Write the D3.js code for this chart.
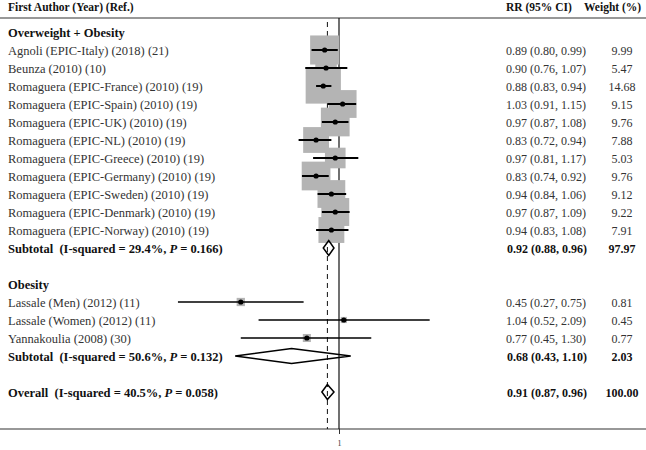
<!DOCTYPE html>
<html>
<head>
<meta charset="utf-8">
<script src="https://cdn.jsdelivr.net/npm/d3@7"></script>
<style>
  html, body { margin: 0; padding: 0; background: #fff; }
  svg { display: block; font-family: "Liberation Serif", "Times New Roman", serif; }
  svg text { white-space: pre; }
</style>
</head>
<body>
<svg id="chart" width="646" height="450"></svg>
<script>
// ---------- data ----------
const groupNames = ["Overweight + Obesity", "Obesity"];
const studies1 = ["Agnoli (EPIC-Italy) (2018) (21)", "Beunza (2010) (10)", "Romaguera (EPIC-France) (2010) (19)",
  "Romaguera (EPIC-Spain) (2010) (19)", "Romaguera (EPIC-UK) (2010) (19)", "Romaguera (EPIC-NL) (2010) (19)",
  "Romaguera (EPIC-Greece) (2010) (19)", "Romaguera (EPIC-Germany) (2010) (19)", "Romaguera (EPIC-Sweden) (2010) (19)",
  "Romaguera (EPIC-Denmark) (2010) (19)", "Romaguera (EPIC-Norway) (2010) (19)"];
const rr1 = [0.89, 0.90, 0.88, 1.03, 0.97, 0.83, 0.97, 0.83, 0.94, 0.97, 0.94];
const lo1 = [0.80, 0.76, 0.83, 0.91, 0.87, 0.72, 0.81, 0.74, 0.84, 0.87, 0.83];
const hi1 = [0.99, 1.07, 0.94, 1.15, 1.08, 0.94, 1.17, 0.92, 1.06, 1.09, 1.08];
const w1  = ["9.99", "5.47", "14.68", "9.15", "9.76", "7.88", "5.03", "9.76", "9.12", "9.22", "7.91"];
const studies2 = ["Lassale (Men) (2012) (11)", "Lassale (Women) (2012) (11)", "Yannakoulia (2008) (30)"];
const rr2 = [0.45, 1.04, 0.77];
const lo2 = [0.27, 0.52, 0.45];
const hi2 = [0.75, 2.09, 1.30];
const w2  = ["0.81", "0.45", "0.77"];
const subtotalLabels = ["Subtotal  (I-squared = 29.4%, ", "Subtotal  (I-squared = 50.6%, "];
const subtotalP = ["0.166", "0.132"];
const subtotalRR = [0.92, 0.68];
const subtotalLo = [0.88, 0.43];
const subtotalHi = [0.96, 1.10];
const subtotalW = ["97.97", "2.03"];
const overallLabel = "Overall  (I-squared = 40.5%, ";
const overallP = "0.058";
const overallRR = 0.91, overallLo = 0.87, overallHi = 0.96, overallW = "100.00";
const headers = ["First Author (Year) (Ref.)", "RR (95% CI)", "Weight (%)"];
const tickValues = [1];

// ---------- layout ----------
const W = 646, H = 450;
const rowTop = 32, rowH = 18;
const xNull = 339, kLog = 123;
const lo = 0.25, hi = 2.5;
const x = d3.scaleLog().domain([lo, hi]).range([xNull + kLog * Math.log(lo), xNull + kLog * Math.log(hi)]);
const yRow = i => rowTop + rowH * i;
const fmt = d3.format(".2f");
const ciText = (r, l, h) => `${fmt(r)} (${fmt(l)}, ${fmt(h)})`;
const boxScale = 9.2;

// build rows
const rows = [];
let r = 0;
rows.push({type: "head", label: groupNames[0], i: r++});
studies1.forEach((s, j) => rows.push({type: "study", label: s, rr: rr1[j], lo: lo1[j], hi: hi1[j], w: w1[j], i: r++, g: 0}));
rows.push({type: "sub", label: subtotalLabels[0], p: subtotalP[0], rr: subtotalRR[0], lo: subtotalLo[0], hi: subtotalHi[0], w: subtotalW[0], i: r++});
r++;
rows.push({type: "head", label: groupNames[1], i: r++});
studies2.forEach((s, j) => rows.push({type: "study", label: s, rr: rr2[j], lo: lo2[j], hi: hi2[j], w: w2[j], i: r++, g: 1}));
rows.push({type: "sub", label: subtotalLabels[1], p: subtotalP[1], rr: subtotalRR[1], lo: subtotalLo[1], hi: subtotalHi[1], w: subtotalW[1], i: r++});
r++;
rows.push({type: "sub", label: overallLabel, p: overallP, rr: overallRR, lo: overallLo, hi: overallHi, w: overallW, i: r++});

const svg = d3.select("#chart");

const topLineY = 18, bottomY = 429;

// header
svg.append("text").attr("x", 8).attr("y", 11).attr("font-weight", "bold").attr("font-size", 11.5).attr("fill", "#111").text(headers[0]);
svg.append("text").attr("x", 506).attr("y", 11).attr("font-weight", "bold").attr("font-size", 11.5).attr("fill", "#111").text(headers[1]);
svg.append("text").attr("x", 584).attr("y", 11).attr("font-weight", "bold").attr("font-size", 11.5).attr("fill", "#111").text(headers[2]);

svg.append("line").attr("x1", 0).attr("x2", W).attr("y1", topLineY).attr("y2", topLineY).attr("stroke", "#333").attr("stroke-width", 1.2);
svg.append("line").attr("x1", 0).attr("x2", W).attr("y1", bottomY).attr("y2", bottomY).attr("stroke", "#333").attr("stroke-width", 1.2);

// reference lines
svg.append("line").attr("x1", x(1)).attr("x2", x(1)).attr("y1", topLineY).attr("y2", bottomY).attr("stroke", "#111").attr("stroke-width", 1.2);
svg.append("line").attr("x1", x(overallRR)).attr("x2", x(overallRR)).attr("y1", 22).attr("y2", bottomY)
  .attr("stroke", "#111").attr("stroke-width", 1).attr("stroke-dasharray", "5,4");

// axis
const axis = d3.axisBottom(x).tickValues(tickValues).tickFormat(d3.format("d")).tickSize(5);
const ax = svg.append("g").attr("transform", `translate(0,${bottomY})`).call(axis);
ax.select(".domain").remove();
ax.selectAll(".tick line").attr("stroke", "#333");
ax.selectAll(".tick text").attr("font-family", "Liberation Serif, serif").attr("font-size", 8).attr("fill", "#333").attr("dy", "1.1em");

// study marks
const studies = rows.filter(d => d.type === "study");
svg.selectAll("rect.box").data(studies).join("rect")
  .attr("class", "box")
  .attr("x", d => x(d.rr) - boxScale * Math.sqrt(+d.w) / 2)
  .attr("y", d => yRow(d.i) - boxScale * Math.sqrt(+d.w) / 2)
  .attr("width", d => boxScale * Math.sqrt(+d.w))
  .attr("height", d => boxScale * Math.sqrt(+d.w))
  .attr("fill", "#b4b4b4");
svg.selectAll("line.ci").data(studies).join("line")
  .attr("class", "ci")
  .attr("x1", d => x(d.lo)).attr("x2", d => x(d.hi))
  .attr("y1", d => yRow(d.i)).attr("y2", d => yRow(d.i))
  .attr("stroke", "#000").attr("stroke-width", d => d.g === 0 ? 2 : 1.5);
svg.selectAll("circle.pt").data(studies).join("circle")
  .attr("class", "pt")
  .attr("cx", d => x(d.rr)).attr("cy", d => yRow(d.i)).attr("r", 2.6).attr("fill", "#000");

// diamonds
const subs = rows.filter(d => d.type === "sub");
const dh = 7.5;
svg.selectAll("path.dia").data(subs).join("path")
  .attr("class", "dia")
  .attr("d", d => {
    const y = yRow(d.i);
    return `M${x(d.lo)},${y} L${x(d.rr)},${y - dh} L${x(d.hi)},${y} L${x(d.rr)},${y + dh} Z`;
  })
  .attr("fill", "none").attr("stroke", "#000").attr("stroke-width", 1.5);

// left labels
const labelSize = 12.5, numSize = 12;
rows.forEach(d => {
  const y = yRow(d.i) + 5;
  if (d.type === "head") {
    svg.append("text").attr("x", 8).attr("y", y).attr("font-size", labelSize).attr("font-weight", "bold").attr("fill", "#111").text(d.label);
  } else if (d.type === "study") {
    svg.append("text").attr("x", 8).attr("y", y).attr("font-size", labelSize).attr("fill", "#333").text(d.label);
    svg.append("text").attr("x", 506).attr("y", y).attr("font-size", numSize).attr("fill", "#333").text(ciText(d.rr, d.lo, d.hi));
    svg.append("text").attr("x", 622).attr("y", y).attr("text-anchor", "middle").attr("font-size", numSize).attr("fill", "#333").text(d.w);
  } else {
    const t = svg.append("text").attr("x", 8).attr("y", y).attr("font-size", labelSize).attr("font-weight", "bold").attr("fill", "#111");
    t.append("tspan").text(d.label);
    t.append("tspan").attr("font-style", "italic").text("P");
    t.append("tspan").text(` = ${d.p})`);
    svg.append("text").attr("x", 507).attr("y", y).attr("font-size", numSize).attr("font-weight", "bold").attr("fill", "#111").text(ciText(d.rr, d.lo, d.hi));
    svg.append("text").attr("x", 622).attr("y", y).attr("text-anchor", "middle").attr("font-size", numSize).attr("font-weight", "bold").attr("fill", "#111").text(d.w);
  }
});
</script>
</body>
</html>
